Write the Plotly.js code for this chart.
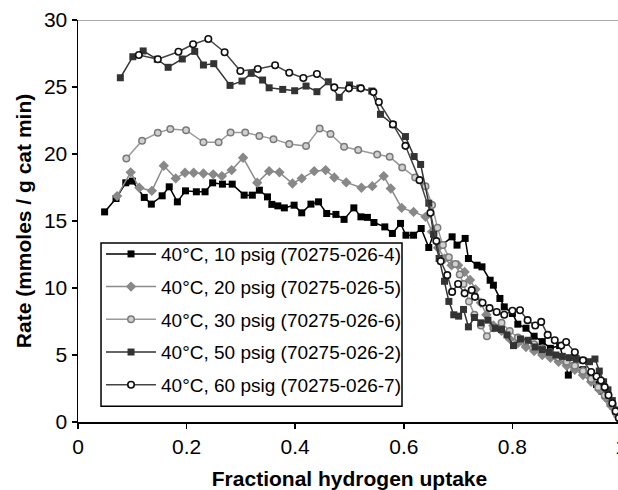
<!DOCTYPE html>
<html>
<head>
<meta charset="utf-8">
<script src="https://cdn.plot.ly/plotly-3.0.1.min.js"></script>
<style>
html,body{margin:0;padding:0;overflow:hidden;background:#fff;width:618px;height:490px;}
#chart{width:640px;height:490px;}
</style>
</head>
<body>
<div id="chart"></div>
<script>
// ---- data ----
const names = [
  "40°C, 10 psig (70275-026-4)",
  "40°C, 20 psig (70275-026-5)",
  "40°C, 30 psig (70275-026-6)",
  "40°C, 50 psig (70275-026-2)",
  "40°C, 60 psig (70275-026-7)"
];

const x10 = [0.049,0.070,0.088,0.100,0.122,0.135,0.155,0.168,0.183,0.198,0.218,0.234,0.248,0.266,0.284,0.306,0.321,0.334,0.349,0.357,0.368,0.380,0.398,0.412,0.429,0.443,0.458,0.475,0.490,0.508,0.521,0.533,0.545,0.565,0.579,0.594,0.604,0.618,0.632,0.646,0.655,0.670,0.689,0.698,0.713,0.719,0.735,0.744,0.759,0.765,0.777,0.785,0.800,0.810,0.825,0.840,0.855,0.870,0.887,0.903,0.915,0.930,0.945,0.955,0.965,0.975,0.985,0.993,0.998];
const y10 = [15.68,16.68,17.85,17.98,16.76,16.26,16.88,17.55,16.43,17.25,17.18,17.18,17.85,17.75,17.75,16.93,16.93,17.30,16.80,16.24,16.13,15.98,16.18,15.61,16.26,16.43,15.56,15.49,15.12,15.98,15.31,15.27,14.89,14.56,14.07,14.82,13.94,13.94,14.44,13.02,14.07,13.20,13.82,13.20,13.70,12.20,11.70,11.58,10.58,10.21,9.22,8.59,8.10,7.3,7.0,6.4,6.0,5.5,5.7,3.5,4.2,3.9,3.3,2.8,2.3,1.8,1.2,0.6,0.3];

const x20 = [0.072,0.097,0.113,0.136,0.158,0.180,0.197,0.213,0.231,0.249,0.265,0.283,0.304,0.330,0.352,0.371,0.395,0.412,0.435,0.456,0.472,0.494,0.522,0.542,0.563,0.576,0.596,0.618,0.640,0.652,0.663,0.675,0.688,0.700,0.712,0.722,0.732,0.742,0.752,0.765,0.780,0.795,0.810,0.825,0.840,0.855,0.870,0.885,0.900,0.915,0.930,0.945,0.960,0.972,0.982,0.992,0.998];
const y20 = [16.86,18.63,17.48,17.25,19.12,18.18,18.60,18.60,18.55,18.48,18.35,18.80,19.72,17.85,18.72,18.63,17.80,18.18,18.72,18.80,18.25,17.88,17.48,17.60,18.35,17.43,15.98,15.68,15.31,14.2,13.0,12.2,11.7,11.7,11.2,10.6,9.9,8.9,8.0,7.2,6.8,6.2,5.9,5.6,5.3,5.0,4.8,4.5,4.2,3.9,3.5,3.0,2.4,1.8,1.2,0.6,0.2];

const x30 = [0.089,0.118,0.147,0.170,0.199,0.231,0.259,0.281,0.308,0.334,0.360,0.389,0.420,0.445,0.465,0.490,0.516,0.551,0.574,0.597,0.621,0.640,0.652,0.662,0.672,0.683,0.695,0.703,0.710,0.720,0.730,0.742,0.753,0.765,0.780,0.795,0.810,0.825,0.840,0.855,0.870,0.885,0.900,0.915,0.930,0.945,0.958,0.970,0.980,0.990,0.998];
const y30 = [19.67,20.99,21.58,21.86,21.78,20.87,20.87,21.61,21.61,21.34,21.11,20.74,20.59,21.91,21.49,20.54,20.29,19.97,19.79,19.00,18.25,17.6,16.2,14.5,13.2,12.3,11.8,11.0,10.3,9.0,8.0,7.2,6.4,7.0,7.4,6.8,6.3,6.0,5.8,5.5,5.2,4.8,4.5,4.2,3.8,3.2,2.6,2.0,1.4,0.8,0.3];

const x50 = [0.078,0.101,0.120,0.146,0.166,0.192,0.215,0.231,0.250,0.280,0.302,0.319,0.340,0.352,0.377,0.399,0.420,0.440,0.461,0.481,0.500,0.519,0.541,0.557,0.580,0.603,0.619,0.631,0.646,0.655,0.665,0.675,0.683,0.692,0.701,0.710,0.719,0.730,0.742,0.755,0.768,0.780,0.790,0.802,0.815,0.829,0.842,0.855,0.868,0.880,0.892,0.905,0.918,0.930,0.942,0.952,0.960,0.968,0.976,0.984,0.992,0.998];
const y50 = [25.69,27.26,27.69,27.07,26.47,27.09,27.66,26.64,26.74,25.12,25.44,26.02,25.52,24.94,24.82,24.72,25.07,24.65,25.39,24.23,25.15,24.92,24.70,22.96,22.2,21.30,19.81,19.22,16.33,14.0,12.2,10.5,9.0,8.0,7.9,8.4,7.1,7.8,7.4,7.6,7.0,6.9,6.5,5.7,6.2,6.1,5.6,5.4,5.2,5.0,4.9,4.8,4.7,4.6,4.5,4.7,3.8,3.0,2.4,1.6,0.9,0.3];

const x60 = [0.112,0.147,0.185,0.212,0.240,0.270,0.299,0.331,0.363,0.389,0.415,0.440,0.472,0.499,0.521,0.544,0.554,0.580,0.603,0.629,0.649,0.660,0.668,0.680,0.689,0.700,0.712,0.725,0.731,0.745,0.758,0.771,0.785,0.800,0.814,0.828,0.842,0.853,0.865,0.878,0.890,0.899,0.915,0.930,0.945,0.955,0.963,0.970,0.977,0.984,0.990,0.996];
const y60 = [27.39,27.07,27.63,28.19,28.58,27.59,26.19,26.34,26.62,26.06,25.67,25.97,24.97,24.90,24.90,24.62,23.88,22.21,20.61,18.05,15.61,13.5,12.0,10.96,9.71,10.3,9.6,9.84,9.34,8.9,8.5,8.21,8.0,8.3,8.34,7.6,7.2,7.47,6.5,6.1,5.7,5.97,5.2,4.6,3.73,3.4,3.1,2.6,2.0,1.4,0.8,0.3];

const xTickVals = [0,0.2,0.4,0.6,0.8,1];
const xTickText = ["0","0.2","0.4","0.6","0.8","1"];
const yTickVals = [0,5,10,15,20,25,30];
const xRange = [0,1];
const yRange = [0,30];

// ---- styles ----
const FONT = "Liberation Sans, Arial, Helvetica, sans-serif";
function tr(x, y, i, lineColor, marker) {
  return {
    x: x, y: y, name: names[i], type: "scatter", mode: "lines+markers",
    legendgroup: "g" + i,
    line: {color: lineColor, width: 1.5},
    marker: marker
  };
}
const traces = [
  tr(x10, y10, 0, "#000000", {symbol: "square", size: 7, color: "#000000"}),
  tr(x20, y20, 1, "#8a8a8a", {symbol: "diamond", size: 8, color: "#888888"}),
  tr(x30, y30, 2, "#9a9a9a", {symbol: "circle", size: 6.5, color: "#d0d0d0", line: {color: "#7a7a7a", width: 1.5}}),
  tr(x50, y50, 3, "#333333", {symbol: "square", size: 7, color: "#333333"}),
  tr(x60, y60, 4, "#444444", {symbol: "circle", size: 6.5, color: "#ffffff", line: {color: "#111111", width: 1.6}})
];

const layout = {
  width: 640, height: 490,
  margin: {l: 78, r: 19, t: 20, b: 68},
  paper_bgcolor: "#ffffff", plot_bgcolor: "#ffffff",
  font: {family: FONT, color: "#000000"},
  showlegend: true,
  legend: {
    x: 0.0424, y: 0.465, xanchor: "left", yanchor: "top",
    borderwidth: 0, bgcolor: "rgba(0,0,0,0)",
    font: {family: FONT, size: 19, color: "#000000"},
    traceorder: "grouped", tracegroupgap: 5, itemwidth: 50
  },
  xaxis: {
    range: xRange, tickvals: xTickVals, ticktext: xTickText,
    ticks: "outside", ticklen: 5, tickwidth: 1.5, tickcolor: "#000",
    showline: true, linecolor: "#000", linewidth: 1.5,
    showgrid: false, zeroline: false,
    tickfont: {family: FONT, size: 21, color: "#000"},
    title: {text: "<b>Fractional hydrogen uptake</b>", font: {family: FONT, size: 21, color: "#000"}, standoff: 14},
    automargin: false
  },
  yaxis: {
    range: yRange, tickvals: yTickVals,
    ticks: "outside", ticklen: 5, tickwidth: 1.5, tickcolor: "#000",
    showline: true, linecolor: "#000", linewidth: 1.5,
    showgrid: false, zeroline: false,
    tickfont: {family: FONT, size: 21, color: "#000"},
    title: {text: "<b>Rate (mmoles / g cat min)</b>", font: {family: FONT, size: 21, color: "#000"}, standoff: 6},
    automargin: false
  },
  shapes: [
    {type: "line", xref: "paper", yref: "y", x0: 0, x1: 1, y0: yRange[1], y1: yRange[1],
     line: {color: "#8c8c8c", width: 1.5}, layer: "below"},
    {type: "rect", xref: "paper", yref: "paper", x0: 0.0424, x1: 0.5967, y0: 0.039, y1: 0.445,
     line: {color: "#000", width: 1.5}, fillcolor: "rgba(0,0,0,0)", layer: "above"}
  ]
};

Plotly.newPlot("chart", traces, layout, {displayModeBar: false, staticPlot: true});
</script>
</body>
</html>
